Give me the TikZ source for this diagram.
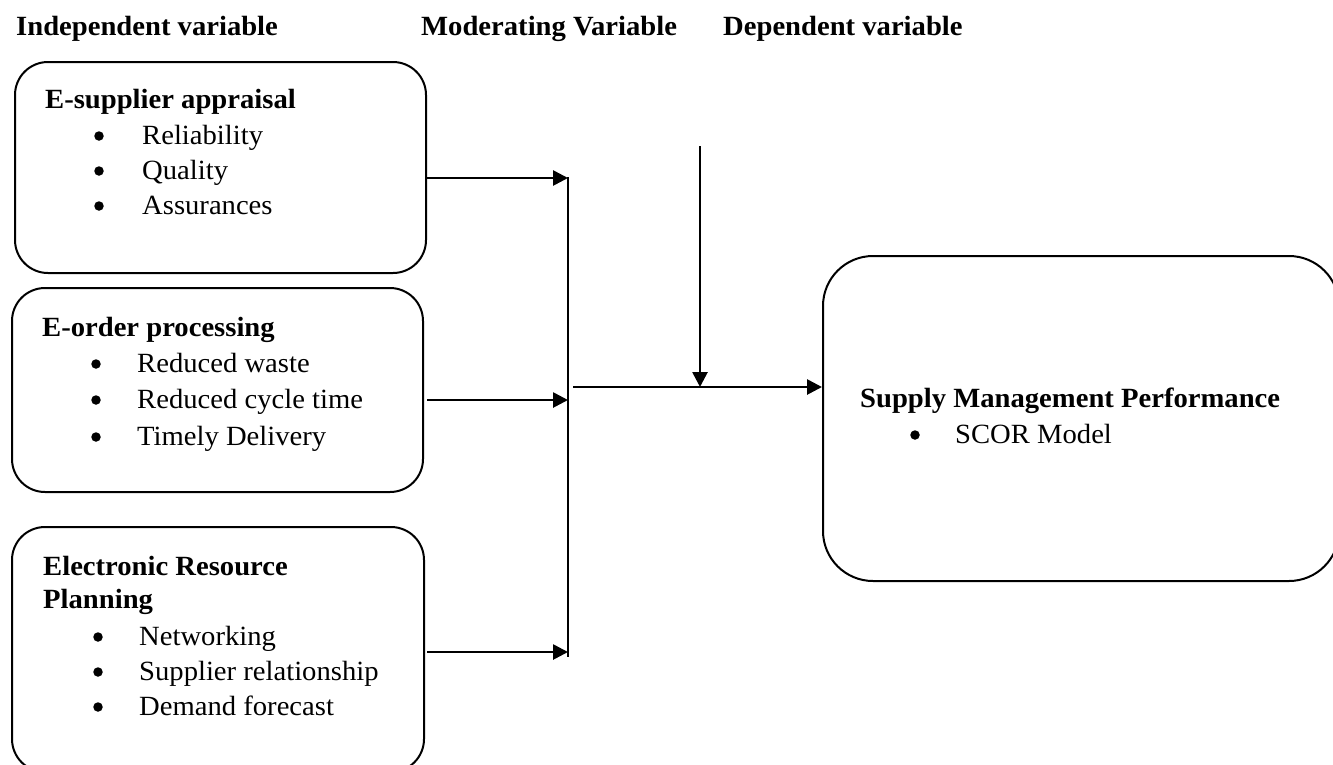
\documentclass[tikz,border=0pt]{standalone}
\usepackage{fontspec}
\setmainfont{Liberation Serif}[FakeStretch=1.03]
\usetikzlibrary{arrows.meta}
\tikzset{
  box/.style={draw, line width=2pt, rounded corners=33pt, inner sep=0pt},
  bigbox/.style={box, rounded corners=50pt},
  txt/.style={anchor=base west, inner sep=0pt, font=\fontsize{27.8}{32}\selectfont},
  ttl/.style={anchor=base west, inner sep=0pt, font=\fontsize{27.8}{32}\selectfont\bfseries},
  bul/.style={circle, fill=black, inner sep=0pt, minimum size=9.5pt, yshift=8pt},
  arr/.style={line width=2.7pt, -{Triangle[length=15pt,width=15pt]}},
  ln/.style={line width=2pt}
}
\begin{document}
\begin{tikzpicture}[x=1pt,y=-1pt]
\useasboundingbox (0,0) rectangle (1333,764);
\clip (0,0) rectangle (1333,764);

% headers
\node[ttl] (h1) at (16,35) {Independent variable};
\node[ttl] (h2) at (421,35) {Moderating Variable};
\node[ttl] (h3) at (723,35) {Dependent variable};

% boxes
\node[box, minimum width=411pt, minimum height=211pt] (b1) at (220.5,167.5) {};
\node[box, minimum width=411pt, minimum height=204pt] (b2) at (217.5,390) {};
\node[box, minimum width=412pt, minimum height=245pt] (b3) at (218,649.5) {};
\node[bigbox, minimum width=516pt, minimum height=325pt] (b4) at (1081,418.5) {};

% box 1 text
\node[ttl] (t1) at (45,108) {E-supplier appraisal};
\node[bul] (p11) at (99,144) {};
\node[txt] (i11) at (142,144) {Reliability};
\node[bul] (p12) at (99,179) {};
\node[txt] (i12) at (142,179) {Quality};
\node[bul] (p13) at (99,214) {};
\node[txt] (i13) at (142,214) {Assurances};

% box 2 text
\node[ttl] (t2) at (42,336) {E-order processing};
\node[bul] (p21) at (96,372) {};
\node[txt] (i21) at (137,372) {Reduced waste};
\node[bul] (p22) at (96,408) {};
\node[txt] (i22) at (137,408) {Reduced cycle time};
\node[bul] (p23) at (96,445) {};
\node[txt] (i23) at (137,445) {Timely Delivery};

% box 3 text
\node[ttl] (t3a) at (43,575) {Electronic Resource};
\node[ttl] (t3b) at (43,608) {Planning};
\node[bul] (p31) at (98,645) {};
\node[txt] (i31) at (139,645) {Networking};
\node[bul] (p32) at (98,680) {};
\node[txt] (i32) at (139,680) {Supplier relationship};
\node[bul] (p33) at (98,715) {};
\node[txt] (i33) at (139,715) {Demand forecast};

% box 4 text
\node[ttl] (t4) at (860,407) {Supply Management Performance};
\node[bul] (p41) at (915,443) {};
\node[txt] (i41) at (955,443) {SCOR Model};

% connector coordinates
\coordinate (j1) at (568,178);
\coordinate (j2) at (568,400);
\coordinate (j3) at (568,652);
\coordinate (bartop) at (568,177);
\coordinate (barbot) at (568,657);
\coordinate (m0) at (573,387);
\coordinate (mod0) at (700,146);
\coordinate (mj) at (700,387);

% connectors
\draw[arr] (b1.east |- j1) -- (j1);
\draw[arr] ([xshift=3pt]b2.east |- j2) -- (j2);
\draw[arr] ([xshift=2pt]b3.east |- j3) -- (j3);
\draw[ln] (bartop) -- (barbot);
\draw[arr] (m0) -- (m0 -| b4.west);
\draw[arr] (mod0) -- (mj);
\end{tikzpicture}
\end{document}
